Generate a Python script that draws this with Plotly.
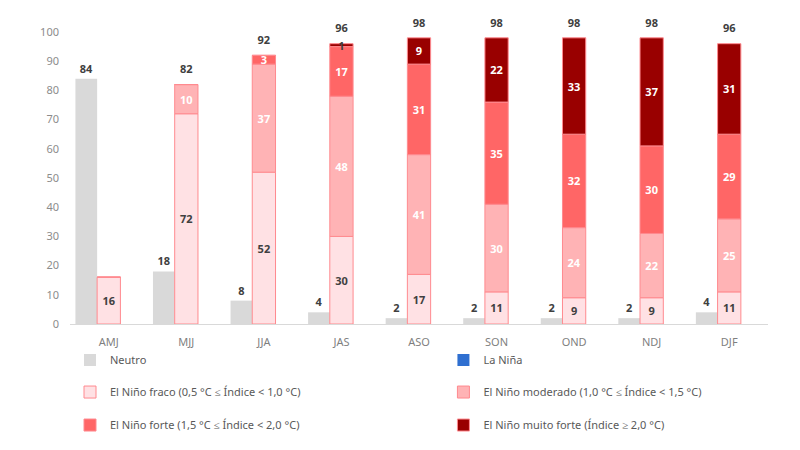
import plotly.graph_objects as go

# Trimestres móveis
categories = ["AMJ", "MJJ", "JJA", "JAS", "ASO", "SON", "OND", "NDJ", "DJF"]

# Probabilidades (%) por categoria
neutro = [84, 18, 8, 4, 2, 2, 2, 2, 4]
la_nina = [0, 0, 0, 0, 0, 0, 0, 0, 0]
nino_fraco = [16, 72, 52, 30, 17, 11, 9, 9, 11]
nino_moderado = [0, 10, 37, 48, 41, 30, 24, 22, 25]
nino_forte = [0, 0, 3, 17, 31, 35, 32, 30, 29]
nino_muito_forte = [0, 0, 0, 1, 9, 22, 33, 37, 31]
totals = [None, 82, 92, 96, 98, 98, 98, 98, 96]

FONT = "Noto Sans"
DARK = "#404040"

fig = go.Figure()

# Neutro: barra cinza à esquerda
fig.add_trace(go.Bar(
    x=categories, y=neutro, name="Neutro",
    marker=dict(color="#d9d9d9", line=dict(width=0)),
    width=0.28, offset=-0.43,
    text=[str(v) for v in neutro], textposition="outside", textangle=0,
    textfont=dict(family=FONT, size=11, color=DARK, weight="bold"),
    cliponaxis=False, legend="legend",
))
# La Niña (só na legenda)
fig.add_trace(go.Bar(
    x=categories, y=la_nina, name="La Niña",
    marker=dict(color="#2f6fd0", line=dict(width=0)),
    width=0.3, offset=-0.15, legend="legend2",
))

stack = [
    (nino_fraco, "El Niño fraco (0,5 °C ≤ Índice < 1,0 °C)", "#ffe1e4", DARK, "legend3"),
    (nino_moderado, "El Niño moderado (1,0 °C ≤ Índice < 1,5 °C)", "#ffb3b5", "white", "legend4"),
    (nino_forte, "El Niño forte (1,5 °C ≤ Índice < 2,0 °C)", "#ff6666", "white", "legend5"),
    (nino_muito_forte, "El Niño muito forte (Índice ≥ 2,0 °C)", "#990000", "white", "legend6"),
]
base = [0] * len(categories)
for values, name, color, tcolor, leg in stack:
    labels = [str(v) if v else "" for v in values]
    tcols = [tcolor] * len(values)
    if name.startswith("El Niño muito forte"):
        tcols = [DARK if v < 3 else "white" for v in values]
    fig.add_trace(go.Bar(
        x=categories, y=values, base=list(base), name=name,
        marker=dict(color=color, line=dict(color="#ff8a8f", width=1)),
        width=0.3, offset=-0.15,
        text=labels, textposition="inside", insidetextanchor="middle",
        constraintext="none", textangle=0,
        textfont=dict(family=FONT, size=11, color=tcols, weight="bold"),
        cliponaxis=False, legend=leg,
    ))
    base = [b + v for b, v in zip(base, values)]

# Totais acima das barras empilhadas (marcador invisível para afastar o texto)
fig.add_trace(go.Scatter(
    x=categories, y=totals, mode="markers+text",
    marker=dict(size=12, color="rgba(0,0,0,0)"),
    text=[str(v) if v else "" for v in totals], textposition="top center",
    textfont=dict(family=FONT, size=11, color=DARK, weight="bold"),
    cliponaxis=False, showlegend=False, hoverinfo="skip",
))

leg_common = dict(
    orientation="v", xanchor="left", yanchor="middle",
    font=dict(family=FONT, size=11, color="#595959"),
    bgcolor="rgba(0,0,0,0)", itemclick=False, itemdoubleclick=False,
)
col1, col2 = 0.0, 0.535
row1, row2, row3 = -0.123, -0.233, -0.346

fig.update_layout(
    width=800, height=450,
    barmode="overlay",
    paper_bgcolor="white", plot_bgcolor="white",
    font=dict(family=FONT, size=11, color="#7f7f7f"),
    margin=dict(l=62, r=40, t=24, b=134),
    xaxis=dict(
        range=[-0.5, len(categories) - 0.5],
        showgrid=False, showline=True, linecolor="#d9d9d9", linewidth=1,
        ticks="", tickfont=dict(size=11, color="#7f7f7f"),
        ticklabelstandoff=8, automargin=False,
    ),
    yaxis=dict(
        range=[0, 100], dtick=10, showgrid=False, zeroline=False,
        showline=False, ticks="", tickfont=dict(size=11, color="#8c8c8c"),
        ticklabelstandoff=10, automargin=False,
    ),
    legend=dict(x=col1, y=row1, **leg_common),
    legend2=dict(x=col2, y=row1, **leg_common),
    legend3=dict(x=col1, y=row2, **leg_common),
    legend4=dict(x=col2, y=row2, **leg_common),
    legend5=dict(x=col1, y=row3, **leg_common),
    legend6=dict(x=col2, y=row3, **leg_common),
)

fig.write_html("out.html")
